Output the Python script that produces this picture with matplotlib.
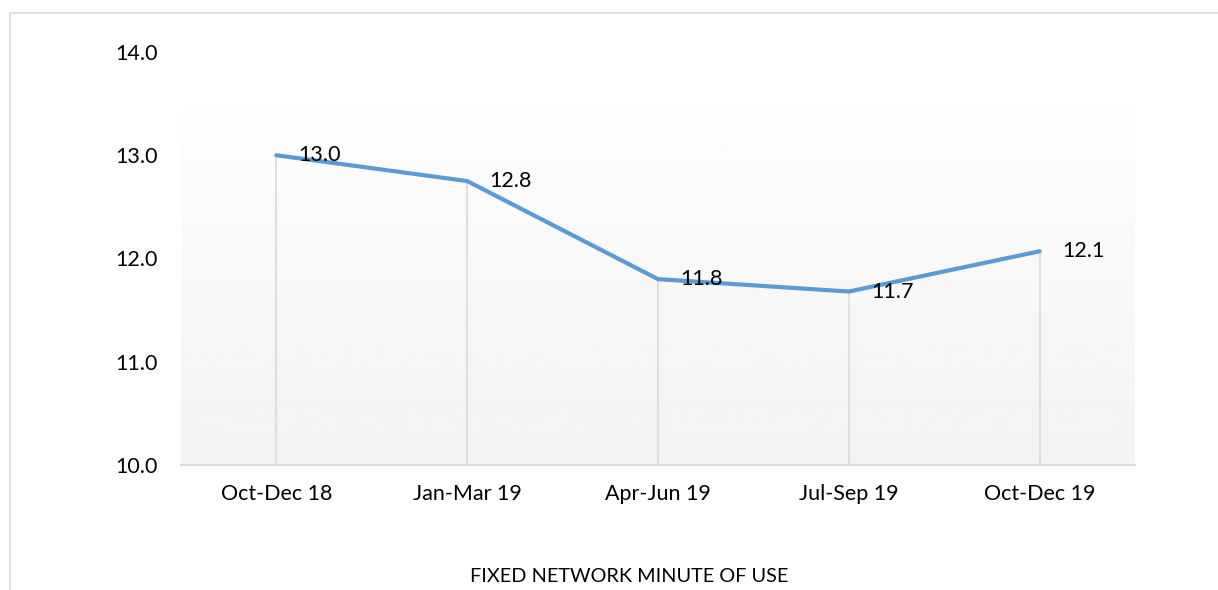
import matplotlib
matplotlib.use("Agg")
import matplotlib.pyplot as plt
from matplotlib.lines import Line2D
import numpy as np

quarters = ["Oct-Dec 18", "Jan-Mar 19", "Apr-Jun 19", "Jul-Sep 19", "Oct-Dec 19"]
minutes = [13.0, 12.75, 11.8, 11.68, 12.07]
yticks = [10.0, 11.0, 12.0, 13.0, 14.0]

plt.rcParams["font.family"] = ["Lato", "DejaVu Sans"]

W, H = 1218, 590
fig = plt.figure(figsize=(W / 100, H / 100), dpi=100)
ax = fig.add_axes([181 / W, 1 - 465 / H, (1135 - 181) / W, (465 - 52) / H])

# soft vertical gradient behind the lower part of the plot area
grad = np.linspace(0.949, 0.995, 256).reshape(-1, 1)
ax.imshow(grad, cmap="gray", vmin=0, vmax=1, aspect="auto", origin="lower",
          extent=(0, 1, 0, (465 - 108) / (465 - 52)), transform=ax.transAxes, zorder=0)

x = np.arange(len(quarters))
ax.vlines(x, 10.0, minutes, color="#d9d9d9", linewidth=1.2, zorder=1)
ax.plot(x, minutes, color="#5b9bd5", linewidth=3.0, solid_capstyle="round", zorder=3)
for xi, v in zip(x, minutes):
    ax.annotate(f"{v:.1f}", (xi, v), xytext=(16, 0), textcoords="offset points",
                ha="left", va="center", fontsize=15.5, color="#000000", zorder=4)

ax.set_xlim(-0.5, len(quarters) - 0.5)
ax.set_ylim(10.0, 14.0)
ax.set_xticks(x)
ax.set_xticklabels(quarters)
ax.set_yticks(yticks)
ax.set_yticklabels([f"{t:.1f}" for t in yticks])
ax.tick_params(length=0, labelsize=15.5, colors="#000000")
ax.tick_params(axis="y", pad=17)
ax.tick_params(axis="x", pad=14)
ax.spines[["top", "right", "left"]].set_visible(False)
ax.spines["bottom"].set_color("#d9d9d9")
ax.spines["bottom"].set_linewidth(1.5)
ax.set_facecolor("none")

fig.text(629 / W, 1 - 577 / H, "FIXED NETWORK MINUTE OF USE", ha="center", va="center",
         fontsize=14.3, color="#000000")

# chart frame (cut off at right and bottom in the original)
fig.add_artist(Line2D([10 / W, 1.0], [1 - 13 / H] * 2, transform=fig.transFigure,
                      color="#d9d9d9", linewidth=1.2))
fig.add_artist(Line2D([10 / W] * 2, [0.0, 1 - 13 / H], transform=fig.transFigure,
                      color="#d9d9d9", linewidth=1.2))

fig.savefig("out.png", dpi=100)
